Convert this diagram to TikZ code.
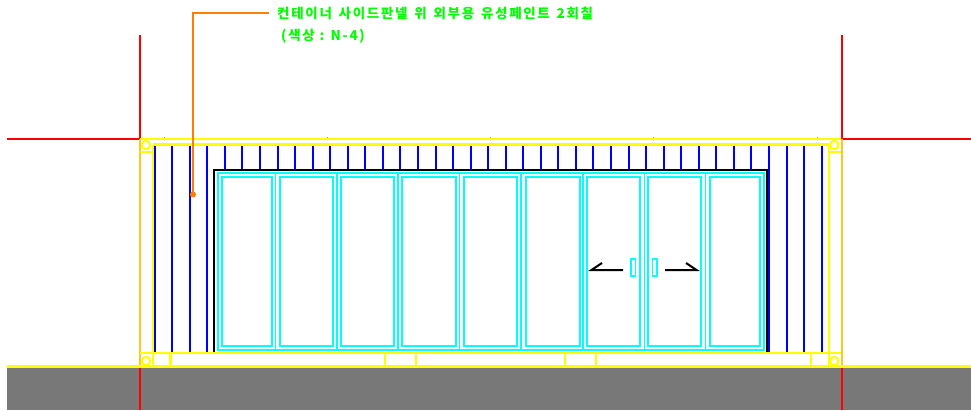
\documentclass[tikz,border=0pt]{standalone}
\usepackage{fontspec}
\setmainfont{Liberation Sans}
\newfontfamily\cjk{Noto Sans CJK KR}[LetterSpace=12.5]
\definecolor{ylw}{RGB}{255,255,0}
\definecolor{blu}{RGB}{0,0,255}
\definecolor{cya}{RGB}{0,255,255}
\definecolor{red1}{RGB}{255,0,0}
\definecolor{org}{RGB}{255,127,0}
\definecolor{grn}{RGB}{0,255,0}
\definecolor{gnd}{RGB}{120,120,120}
\definecolor{edge}{RGB}{255,200,30}
\tikzset{
  yl/.style={draw=ylw,line width=2.1pt},
  bl/.style={draw=blu,line width=2pt},
  cy/.style={draw=cya,line width=2pt},
  rd/.style={draw=red1,line width=2pt},
  bk/.style={draw=black,line width=2pt},
  lbl/.style={text=grn,anchor=west,inner sep=0pt,font=\cjk\bfseries\fontsize{13.5}{15}\selectfont}
}
\begin{document}
\begin{tikzpicture}[x=1pt,y=-1pt]
\useasboundingbox (0,0) rectangle (971,410);
\fill[white] (0,0) rectangle (971,410);
\fill[gnd] (7,367) rectangle (971,410);
% red reference lines
\draw[rd] (7,138.5) -- (140,138.5);
\draw[rd] (841.5,138.5) -- (971,138.5);
\draw[rd] (139.5,35) -- (139.5,410);
\draw[rd] (841.5,35) -- (841.5,410);
% side edges
\draw[draw=edge,line width=2pt] (139.5,138.5) -- (139.5,366.5);
\draw[draw=edge,line width=2pt] (841.5,138.5) -- (841.5,366.5);
% blue corrugation
\foreach \i in {0,1,2,3,35,36,37,38}{
  \draw[bl] ({154.7+17.55*\i},145) -- ({154.7+17.55*\i},353);
}
\foreach \i in {4,...,34}{
  \draw[bl] ({154.7+17.55*\i},145) -- ({154.7+17.55*\i},169);
}
% opening
\draw[bk] (214.3,353) -- (214.3,169.5) -- (767,169.5) -- (767,353);
% door leaves
\draw[cy] (217.5,172.5) rectangle (763.5,349.7);
\foreach \a/\b in {221.5/271.8,279.5/333,340.5/394,402/455.5,463.5/516.5,525.5/579.5,586.5/639.5,647.5/701.2,709.5/759.5}{
  \draw[cy] (\a,177) rectangle (\b,346);
}
\foreach \x in {275.7,337,398,459.5,521,583,644.3,705.7}{
  \draw[cy,line width=1.4pt] (\x,172.5) -- (\x,350);
}
% handles
\draw[cy,line width=1.6pt] (631,259) rectangle (635.5,276);
\draw[cy,line width=1.6pt] (652.5,259) rectangle (657,276);
\draw[draw=black,line width=2pt] (623,270) -- (591.5,270) -- (602,263);
\draw[draw=black,line width=2pt] (665,270) -- (696.5,270) -- (686,263);
% yellow frame
\draw[yl] (7,366.5) -- (971,366.5);
\draw[yl] (140,138.7) -- (841,138.7);
\draw[yl] (153,144.5) -- (829,144.5);
\draw[yl] (140,353.3) -- (841,353.3);
\draw[yl] (153,144.5) -- (153,366.5);
\draw[yl] (828.7,144.5) -- (828.7,366.5);
\draw[yl] (140,151.8) -- (153,151.8);
\draw[yl] (828.7,151.8) -- (841,151.8);
\foreach \x in {170.5,385,415.7,565,595.7,810.7}{
  \draw[yl] (\x,353.3) -- (\x,366.5);
}
\foreach \x/\y in {146/145,834.3/145,146/361,834.3/361}{
  \draw[yl,line width=2pt] (\x,\y) circle (4.2);
}
% small ticks on the top rail
\foreach \x in {164,327,490,653,817}{
  \fill[org] (\x-0.5,136.5) rectangle (\x+0.5,138);
}
% leader
\node[lbl] (t1) at (277,13.5) {\spaceskip=6.8pt 컨테이너 사이드판넬 위 외부용 유성페인트 2회칠};
\node[lbl] (t2) at (281,36) {(색상 : N-4)};
\coordinate (lstart) at (269,13);
\coordinate (lend) at (193,194.5);
\draw[draw=org,line width=2pt] (lstart) -- (193,13) -- (lend);
\fill[org] (lend) circle (3);
\end{tikzpicture}
\end{document}
